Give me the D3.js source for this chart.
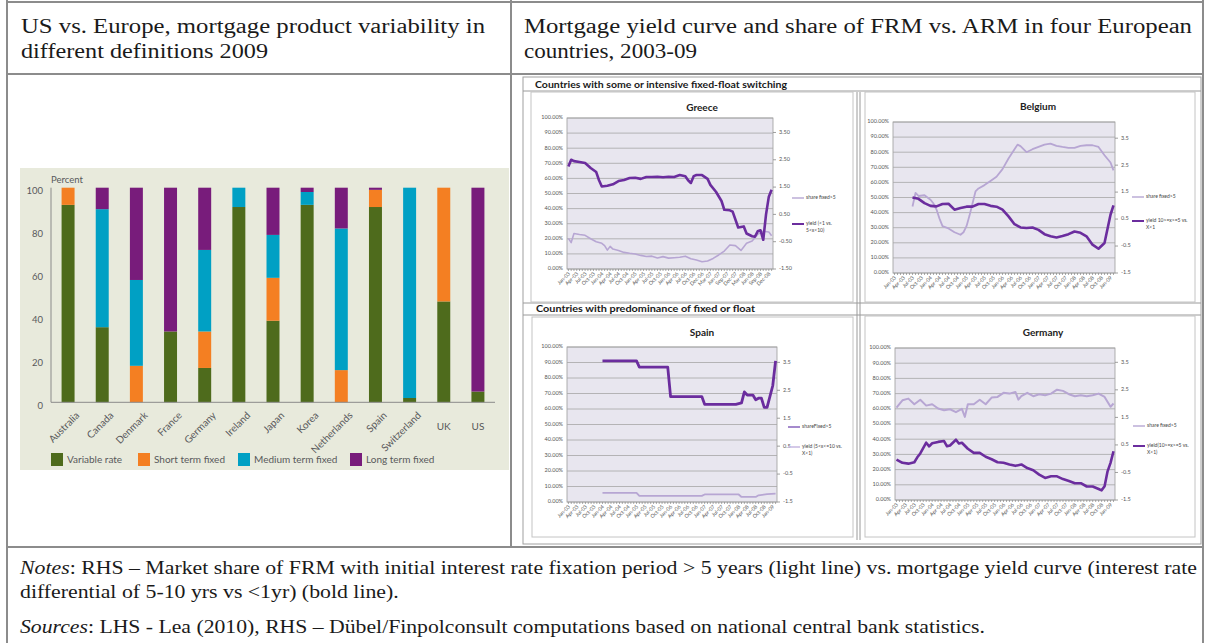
<!DOCTYPE html>
<html>
<head>
<meta charset="utf-8">
<script src="https://cdn.jsdelivr.net/npm/d3@7"></script>
<style>
	body { margin: 0; background: #fff; }
</style>
</head>
<body>
<svg id="fig" width="1206" height="643"></svg>
<script>
// ---- LHS bar chart data (percent of mortgage products, 2009)
const countries = ["Australia", "Canada", "Denmark", "France", "Germany", "Ireland", "Japan", "Korea", "Netherlands", "Spain", "Switzerland", "UK", "US"];
const variableRate    = [92, 35,  0, 33, 16, 91, 38, 92,  0, 91,  2, 47,  5];
const shortTermFixed  = [ 8,  0, 17,  0, 17,  0, 20,  0, 15,  8,  0, 53,  0];
const mediumTermFixed = [ 0, 55, 40,  0, 38,  9, 20,  6, 66,  0, 98,  0,  0];
const longTermFixed   = [ 0, 10, 43, 67, 29,  0, 22,  2, 19,  1,  0,  0, 95];
const barTicks = [0, 20, 40, 60, 80, 100];
const legendNames = ["Variable rate", "Short term fixed", "Medium term fixed", "Long term fixed"];

// ---- RHS small charts: [month index from Jan-03, value]
const monthLabels = ["Jan-03","Apr-03","Jul-03","Oct-03","Jan-04","Apr-04","Jul-04","Oct-04","Jan-05","Apr-05","Jul-05","Oct-05","Jan-06","Apr-06","Jul-06","Oct-06","Jan-07","Apr-07","Jul-07","Oct-07","Jan-08","Apr-08","Jul-08","Oct-08","Jan-09"];
const greeceMonthLabels = ["Jan-03","Apr-03","Jul-03","Oct-03","Jan-04","Apr-04","Jul-04","Oct-04","Jan-05","Apr-05","Jul-05","Oct-05","Jan-06","Apr-06","Jul-06","Oct-06","Dec-06","Mar-07","Jun-07","Sep-07","Dec-07","Mar-08","Jun-08","Sep-08","Dec-08"];
const pctTicks = [0, 10, 20, 30, 40, 50, 60, 70, 80, 90, 100];
const pctTickLabels = ["0.00%","10.00%","20.00%","30.00%","40.00%","50.00%","60.00%","70.00%","80.00%","90.00%","100.00%"];
const rateTicks = [-1.5, -0.5, 0.5, 1.5, 2.5, 3.5];
const greeceRateLabels = ["-1.50","-0.50","0.50","1.50","2.50","3.50"];
const rateLabels = ["-1.5","-0.5","0.5","1.5","2.5","3.5"];

const greeceShare = [[0,20.3],[1,17.5],[2,23.5],[4,22.8],[6,22.3],[8,20],[10,18],[12,17],[13,15.5],[14,12.5],[15,15],[16,13.2],[18,12.3],[20,11],[22,10.4],[24,9.9],[26,9],[28,8.3],[30,8.5],[32,7.3],[34,8.2],[36,7.2],[38,7.5],[40,7.8],[42,8.5],[44,6.8],[46,5.9],[48,4.8],[50,5.3],[52,7],[54,9.3],[56,11.9],[58,15.9],[60,15.5],[62,12.3],[64,17],[66,18.5],[68,22.9],[70,25],[72,24.5],[73,22]];
const greeceYield = [[0,2.25],[1,2.5],[2,2.45],[4,2.42],[6,2.38],[8,2.2],[10,2.05],[11,1.75],[12,1.52],[14,1.55],[16,1.6],[18,1.72],[20,1.76],[22,1.83],[24,1.84],[26,1.8],[28,1.87],[30,1.87],[32,1.88],[34,1.86],[36,1.88],[38,1.87],[40,1.94],[42,1.9],[43,1.75],[44,1.65],[45,1.9],[46,1.94],[48,1.94],[50,1.8],[51,1.58],[53,1.33],[55,0.99],[56,0.67],[58,0.65],[59,0.6],[61,0.02],[63,0.06],[64,-0.2],[66,-0.3],[67,-0.32],[68,-0.12],[69,-0.08],[70,-0.43],[71,0.5],[72,1.15],[73,1.4]];

const belgiumShare = [[6,44],[7,53],[8,51],[10,51.5],[12,48.5],[13,46],[14,42],[15,36],[16,31],[18,29.5],[20,27],[22,25.3],[23,27],[24,31],[25,38],[26,46],[27,54],[28,56],[30,58.2],[32,60.9],[34,63.7],[36,68.8],[38,75.8],[40,82],[41,85],[42,84],[44,80],[46,82],[48,83.5],[50,85],[52,85.7],[54,84.2],[56,83.5],[58,82.9],[60,82.9],[62,84.2],[64,84.6],[66,84.6],[68,83.5],[70,78],[72,73.2],[73,68]];
const belgiumYield = [[6,1.3],[8,1.25],[10,1.09],[12,0.99],[14,0.97],[16,1.06],[18,1.07],[20,0.85],[22,0.91],[24,0.96],[26,0.96],[28,1.06],[30,1.06],[32,0.99],[34,0.96],[36,0.85],[38,0.6],[40,0.31],[42,0.19],[44,0.17],[46,0.19],[48,0.1],[50,-0.06],[52,-0.14],[54,-0.18],[56,-0.13],[58,-0.06],[60,0.04],[62,-0.01],[64,-0.14],[66,-0.45],[68,-0.6],[70,-0.39],[72,0.66],[73,1.01]];

const spainShare = [[12,91],[24,91],[25,87],[35,87],[36,68],[47,68],[48,63],[59,63],[61,64],[62,71],[63,69],[65,69],[66,66],[67,67],[68,67],[69,61],[70,61],[72,75],[73,91]];
const spainYield = [[12,-1.17],[24,-1.17],[25,-1.28],[47,-1.28],[48,-1.23],[60,-1.23],[61,-1.32],[66,-1.32],[67,-1.26],[70,-1.22],[73,-1.2]];

const germanyShare = [[0,60.8],[2,65.6],[4,66.7],[6,63],[8,66],[10,62.1],[12,63],[14,60.2],[16,59.1],[18,59.7],[20,57.8],[22,60],[23,54.7],[24,63],[26,63],[28,66],[30,63],[32,67.4],[34,67.8],[36,70.5],[38,70],[40,71.1],[41,66],[42,68.3],[44,70.5],[46,68.3],[48,69.6],[50,68.9],[52,70],[54,72.6],[56,71.8],[58,69.6],[60,68.3],[62,68.9],[64,68.3],[66,68.9],[68,70],[70,67.8],[72,61.3],[73,63.5]];
const germanyYield = [[0,-0.03],[2,-0.15],[4,-0.18],[6,-0.13],[7,0.05],[8,0.19],[10,0.58],[11,0.45],[12,0.56],[14,0.61],[16,0.64],[17,0.45],[18,0.48],[20,0.69],[21,0.55],[22,0.58],[24,0.36],[26,0.21],[28,0.21],[30,0.07],[32,-0.02],[34,-0.13],[36,-0.15],[38,-0.21],[40,-0.26],[42,-0.21],[44,-0.34],[46,-0.42],[48,-0.58],[50,-0.7],[52,-0.64],[54,-0.64],[56,-0.74],[58,-0.81],[60,-0.89],[62,-0.89],[64,-1.01],[66,-1.01],[68,-1.1],[69,-1.15],[70,-1.0],[71,-0.46],[72,-0.15],[73,0.27]];

const svg = d3.select("#fig");
const ink = "#1a1a1a";
const serif = "'Liberation Serif', 'Times New Roman', serif";

// ---- table frame
const rule = "#8c8c8c";
[[7,0,7,643],[511,0,511,547],[1203,0,1203,643],[7,2,1203,2],[7,74,1203,74],[7,547,1203,547]].forEach((l) => {
	svg.append("line")
		.attr("x1", l[0]).attr("y1", l[1]).attr("x2", l[2]).attr("y2", l[3])
		.attr("stroke", rule).attr("stroke-width", 2);
});

const para = (x, y, parts, size) => {
	const t = svg.append("text")
		.attr("x", x).attr("y", y)
		.attr("font-family", serif).attr("font-size", size).attr("fill", ink);
	parts.forEach((p) => {
		t.append("tspan").attr("font-style", p.i ? "italic" : null).text(p.t);
	});
	return t;
};
const fit = (t, len) => t.attr("textLength", len).attr("lengthAdjust", "spacingAndGlyphs");

fit(para(21, 33, [{t: "US vs. Europe, mortgage product variability in"}], 20), 464);
fit(para(21, 58, [{t: "different definitions 2009"}], 20), 247);
fit(para(524, 33, [{t: "Mortgage yield curve and share of FRM vs. ARM in four European"}], 20), 668);
fit(para(524, 58, [{t: "countries, 2003-09"}], 20), 173);

// notes: same horizontal stretch on both lines of the note
const note1 = para(20, 574, [{t: "Notes", i: true}, {t: ": RHS \u2013 Market share of FRM with initial interest rate fixation period > 5 years (light line) vs. mortgage yield curve (interest rate"}], 18);
const note2 = para(20, 598, [{t: "differential of 5-10 yrs vs <1yr) (bold line)."}], 18);
const src = para(20, 633, [{t: "Sources", i: true}, {t: ": LHS - Lea (2010), RHS \u2013 D\u00fcbel/Finpolconsult computations based on national central bank statistics."}], 18);
const stretch = 1177 / note1.node().getComputedTextLength();
fit(note2, note2.node().getComputedTextLength() * stretch);
fit(note1, 1177);
fit(src, 965);

// ---- LHS stacked bars
const sans = "Lato, 'Open Sans', sans-serif";
const grey = "#58595b";
const barColors = ["#4e6b1c", "#f47f22", "#00a0c4", "#781c7b"];
const keys = ["variable", "short", "medium", "long"];

const left = svg.append("g");
left.append("rect")
	.attr("x", 20).attr("y", 168).attr("width", 489).attr("height", 302)
	.attr("fill", "#e8eadc");

const xBar = d3.scaleBand().domain(countries).range([51, 495]).paddingInner(0.62).paddingOuter(0.31);
const yBar = d3.scaleLinear().domain([0, 100]).range([402.3, 187.7]);

const rows = countries.map((c, i) => ({
	country: c,
	variable: variableRate[i],
	short: shortTermFixed[i],
	medium: mediumTermFixed[i],
	long: longTermFixed[i]
}));
const layers = d3.stack().keys(keys)(rows);

left.selectAll("g.layer")
	.data(layers)
	.enter()
	.append("g")
		.attr("fill", (d, i) => barColors[i])
		.selectAll("rect")
			.data((d) => d.filter((s) => s[1] > s[0]))
			.enter()
			.append("rect")
				.attr("x", (d) => xBar(d.data.country))
				.attr("width", xBar.bandwidth())
				.attr("y", (d) => yBar(d[1]))
				.attr("height", (d) => yBar(d[0]) - yBar(d[1]));

// axes
left.append("line").attr("x1", 51).attr("x2", 51).attr("y1", yBar(100)).attr("y2", yBar(0)).attr("stroke", "#8a8a8a");
left.append("line").attr("x1", 51).attr("x2", 495).attr("y1", yBar(0)).attr("y2", yBar(0)).attr("stroke", "#8a8a8a");

left.selectAll("text.ytick")
	.data(barTicks)
	.enter()
	.append("text")
		.attr("x", 43)
		.attr("y", (d) => yBar(d) + 4)
		.attr("text-anchor", "end")
		.attr("dominant-baseline", "middle")
		.attr("font-family", sans).attr("font-size", 9.5).attr("fill", grey)
		.text((d) => d);

left.append("text")
	.attr("x", 51).attr("y", 183)
	.attr("font-family", sans).attr("font-size", 9.5).attr("fill", grey)
	.text("Percent");

countries.forEach((c) => {
	const cx = xBar(c) + xBar.bandwidth() / 2;
	const t = left.append("text")
		.attr("font-family", sans).attr("font-size", 10).attr("fill", grey)
		.text(c);
	if (c.length > 2) {
		t.attr("text-anchor", "end")
			.attr("transform", `translate(${cx + 12},416) rotate(-45)`);
	} else {
		t.attr("text-anchor", "middle").attr("x", cx).attr("y", 430);
	}
});

const legendX = [51, 138, 238, 350];
legendNames.forEach((n, i) => {
	left.append("rect")
		.attr("x", legendX[i]).attr("y", 453).attr("width", 12).attr("height", 13)
		.attr("fill", barColors[i]);
	left.append("text")
		.attr("x", legendX[i] + 16).attr("y", 463)
		.attr("font-family", sans).attr("font-size", 10).attr("fill", grey)
		.text(n);
});

// ---- RHS excel-style panels
const dark = "#6b2d9e";
const light = "#b7a6d3";
const xl = "Lato, Calibri, 'Open Sans', sans-serif";

const right = svg.append("g");
right.append("rect")
	.attr("x", 523).attr("y", 77).attr("width", 678).attr("height", 467)
	.attr("fill", "#fff").attr("stroke", "#a0a0a0");

[[523, 91, 1201, 91], [523, 303, 1201, 303], [523, 315, 1201, 315], [857, 92, 857, 540], [860, 92, 860, 540]].forEach((l) => {
	right.append("line")
		.attr("x1", l[0]).attr("y1", l[1]).attr("x2", l[2]).attr("y2", l[3])
		.attr("stroke", "#9a9a9a");
});

right.append("text")
	.attr("x", 535).attr("y", 88)
	.attr("font-family", xl).attr("font-weight", "bold").attr("font-size", 9.5).attr("fill", ink)
	.attr("textLength", 252).attr("lengthAdjust", "spacingAndGlyphs")
	.text("Countries with some or intensive fixed-float switching");
right.append("text")
	.attr("x", 536).attr("y", 312)
	.attr("font-family", xl).attr("font-weight", "bold").attr("font-size", 9.5).attr("fill", ink)
	.attr("textLength", 219).attr("lengthAdjust", "spacingAndGlyphs")
	.text("Countries with predominance of fixed or float");

const drawPanel = (spec) => {
	const g = right.append("g");
	const p = spec.plot;

	g.append("rect")
		.attr("x", spec.frame[0]).attr("y", spec.frame[1])
		.attr("width", spec.frame[2]).attr("height", spec.frame[3])
		.attr("fill", "#fff").attr("stroke", "#c4c4c4");

	g.append("text")
		.attr("x", spec.titlePos[0]).attr("y", spec.titlePos[1])
		.attr("text-anchor", "middle")
		.attr("font-family", xl).attr("font-weight", "bold").attr("font-size", 10).attr("fill", "#222")
		.text(spec.title);

	const x = d3.scaleLinear().domain([-0.5, 73.5]).range([p.x0, p.x1]);
	const yL = d3.scaleLinear().domain([0, 100]).range([p.y1, p.y0]);
	const yR = d3.scaleLinear().domain(spec.rightDomain).range([p.y1, p.y0]);

	g.append("rect")
		.attr("x", p.x0).attr("y", p.y0).attr("width", p.x1 - p.x0).attr("height", p.y1 - p.y0)
		.attr("fill", "#e8e6ef").attr("stroke", "#9c9c9c").attr("stroke-width", 0.8);

	g.selectAll("line.grid")
		.data(pctTicks)
		.enter()
		.append("line")
			.attr("x1", p.x0).attr("x2", p.x1)
			.attr("y1", (d) => yL(d)).attr("y2", (d) => yL(d))
			.attr("stroke", "#a6a6a6").attr("stroke-width", 0.8);

	g.selectAll("text.lt")
		.data(pctTicks)
		.enter()
		.append("text")
			.attr("x", p.x0 - 4)
			.attr("y", (d) => yL(d))
			.attr("text-anchor", "end").attr("dominant-baseline", "middle")
			.attr("font-family", xl).attr("font-size", 5.5).attr("fill", "#555")
			.text((d, i) => pctTickLabels[i]);

	g.selectAll("line.rt")
		.data(rateTicks)
		.enter()
		.append("line")
			.attr("x1", p.x1).attr("x2", p.x1 + 3)
			.attr("y1", (d) => yR(d)).attr("y2", (d) => yR(d))
			.attr("stroke", "#888").attr("stroke-width", 0.8);

	g.selectAll("text.rt")
		.data(rateTicks)
		.enter()
		.append("text")
			.attr("x", p.x1 + 6)
			.attr("y", (d) => yR(d))
			.attr("dominant-baseline", "middle")
			.attr("font-family", xl).attr("font-size", 5.5).attr("fill", "#555")
			.text((d, i) => spec.rateLabels[i]);

	g.selectAll("line.xt")
		.data(d3.range(74))
		.enter()
		.append("line")
			.attr("x1", (d) => x(d)).attr("x2", (d) => x(d))
			.attr("y1", p.y1).attr("y2", p.y1 + 2)
			.attr("stroke", "#888").attr("stroke-width", 0.7);

	g.selectAll("text.xt")
		.data(spec.monthLabels)
		.enter()
		.append("text")
			.attr("text-anchor", "end")
			.attr("transform", (d, i) => `translate(${x(i * 3) + 2},${p.y1 + 5}) rotate(-45)`)
			.attr("font-family", xl).attr("font-size", 5.2).attr("fill", "#555")
			.text((d) => d);

	const line = (scale) => d3.line().x((d) => x(d[0])).y((d) => scale(d[1]));

	spec.series.forEach((s) => {
		g.append("path")
			.datum(s.data)
			.attr("d", line(s.axis === "left" ? yL : yR))
			.attr("fill", "none")
			.attr("stroke", s.color)
			.attr("stroke-width", s.width)
			.attr("stroke-linejoin", "round");
	});

	spec.legend.forEach((l) => {
		g.append("line")
			.attr("x1", l.x).attr("x2", l.x + 12)
			.attr("y1", l.y).attr("y2", l.y)
			.attr("stroke", l.color).attr("stroke-width", l.width);
		l.lines.forEach((txt, k) => {
			g.append("text")
				.attr("x", l.x + 14).attr("y", l.y + k * 6.5)
				.attr("dominant-baseline", "middle")
				.attr("font-family", xl).attr("font-size", 5).attr("fill", "#444")
				.text(txt);
		});
	});
};

drawPanel({
	frame: [531, 92, 322, 210],
	title: "Greece",
	titlePos: [702, 111],
	plot: {x0: 567, x1: 773, y0: 118, y1: 269},
	rightDomain: [-1.5, 4.03],
	rateLabels: greeceRateLabels,
	monthLabels: greeceMonthLabels,
	series: [
		{data: greeceShare, axis: "left", color: light, width: 1.6},
		{data: greeceYield, axis: "right", color: dark, width: 2.6}
	],
	legend: [
		{x: 792, y: 198, color: light, width: 1.4, lines: ["share fixed>5"]},
		{x: 792, y: 224, color: dark, width: 2, lines: ["yield (<1 vs.", "5<x<10)"]}
	]
});

drawPanel({
	frame: [865, 92, 330, 210],
	title: "Belgium",
	titlePos: [1038, 110],
	plot: {x0: 893, x1: 1115, y0: 122, y1: 273},
	rightDomain: [-1.5, 4.1],
	rateLabels: rateLabels,
	monthLabels: monthLabels,
	series: [
		{data: belgiumShare, axis: "left", color: light, width: 1.8},
		{data: belgiumYield, axis: "right", color: dark, width: 2.6}
	],
	legend: [
		{x: 1132, y: 197, color: light, width: 1.4, lines: ["share fixed>5"]},
		{x: 1132, y: 221, color: dark, width: 2, lines: ["yield 10>=x>=5 vs.", "X<1"]}
	]
});

drawPanel({
	frame: [532, 317, 321, 220],
	title: "Spain",
	titlePos: [702, 336],
	plot: {x0: 567, x1: 777, y0: 347, y1: 502},
	rightDomain: [-1.5, 4.05],
	rateLabels: rateLabels,
	monthLabels: monthLabels,
	series: [
		{data: spainYield, axis: "right", color: light, width: 1.8},
		{data: spainShare, axis: "left", color: dark, width: 2.8}
	],
	legend: [
		{x: 788, y: 427, color: "#8f6cc0", width: 1.6, lines: ["shareFixed>5"]},
		{x: 788, y: 447, color: "#c9bbe2", width: 1.6, lines: ["yield (5<x<=10 vs.", "X<1)"]}
	]
});

drawPanel({
	frame: [865, 316, 330, 221],
	title: "Germany",
	titlePos: [1043, 336],
	plot: {x0: 895, x1: 1115, y0: 348, y1: 500},
	rightDomain: [-1.5, 4.02],
	rateLabels: rateLabels,
	monthLabels: monthLabels,
	series: [
		{data: germanyShare, axis: "left", color: light, width: 2},
		{data: germanyYield, axis: "right", color: dark, width: 2.6}
	],
	legend: [
		{x: 1133, y: 426, color: light, width: 1.4, lines: ["share fixed>5"]},
		{x: 1133, y: 446, color: dark, width: 2, lines: ["yield(10>=x>=5 vs.", "X<1)"]}
	]
});
</script>
</body>
</html>
